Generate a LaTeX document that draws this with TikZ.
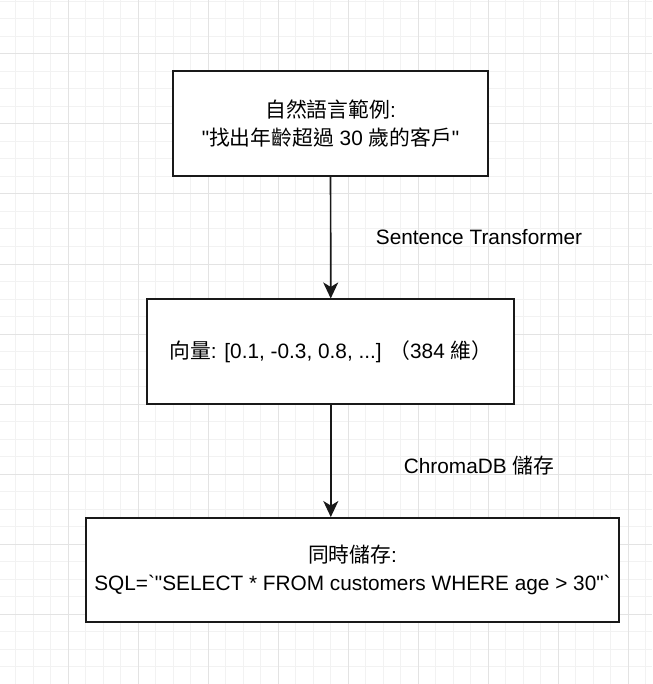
\documentclass[tikz,border=0pt]{standalone}
\usepackage{fontspec}
\setmainfont{Liberation Sans}[Ligatures=TeXOff]
\newfontfamily\cjk{Noto Sans CJK TC}
\newcommand{\zh}[1]{{\cjk #1}}
\usetikzlibrary{arrows.meta, positioning}

\begin{document}
\begin{tikzpicture}[
    x=1pt, y=-1pt,
    font=\fontsize{20.8}{28.3}\selectfont,
    minorline/.style={draw=gray!10, line width=1pt},
    majorline/.style={draw=gray!22, line width=1pt},
    box/.style={rectangle, draw=black!90, line width=2pt, fill=white, align=center, inner sep=0pt},
    flow/.style={-{Stealth[length=16pt, width=15pt, inset=4.5pt]}, line width=1.7pt, black!90},
    lbl/.style={align=center, inner sep=0pt}
]
    \useasboundingbox (0,0) rectangle (652,684);

    % Grid
    \fill[white] (0,0) rectangle (652,684);
    \foreach \k in {0,...,36} \draw[minorline] ({15.8+17.5*\k},0) -- ++(0,684);
    \foreach \k in {0,...,38} \draw[minorline] (0,{1.5+17.5*\k}) -- ++(652,0);
    \foreach \k in {0,...,8} \draw[majorline] ({68.3+70*\k},0) -- ++(0,684);
    \foreach \k in {0,...,8} \draw[majorline] (0,{54+70*\k}) -- ++(652,0);

    % Boxes
    \node[box, minimum width=315pt, minimum height=104.5pt] (query) at (330.5,123.7)
        {\zh{自然語言範例}:\\"\zh{找出年齡超過} 30 \zh{歲的客戶}"};
    \node[box, minimum width=367pt, minimum height=104.5pt] (vector) at (330.8,351.7)
        {\zh{向量}: [0.1, -0.3, 0.8, ...] \zh{（}384 \zh{維）}};
    \node[box, minimum width=533.5pt, minimum height=104.3pt] (store) at (352.5,570.2)
        {\zh{同時儲存}:\\SQL=`"SELECT * FROM customers WHERE age > 30"`};

    % Arrows
    \draw[flow] (query) -- (vector);
    \draw[flow] (vector) -- (vector |- store.north);

    % Labels
    \node[lbl] (embed) at (479,236.7) {Sentence Transformer};
    \node[lbl] (chroma) at (479,466) {ChromaDB \zh{儲存}};
\end{tikzpicture}
\end{document}
